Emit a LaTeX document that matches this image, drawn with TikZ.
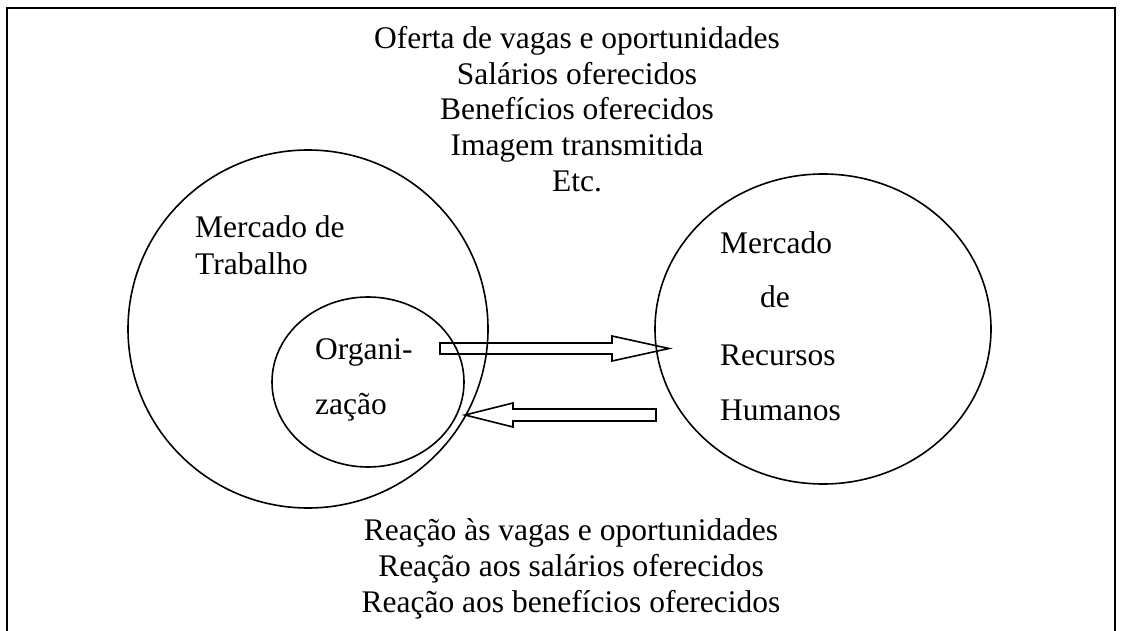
\documentclass[tikz,border=0pt]{standalone}
\usepackage{fontspec}
\setmainfont{Liberation Serif}
\begin{document}
\begin{tikzpicture}[x=1bp,y=-1bp,
  txt/.style={inner sep=0pt,anchor=base,font=\fontsize{31.6}{36}\selectfont},
  ltxt/.style={txt,anchor=base west},
  ring/.style={line width=1.6bp},
  blockarrow/.style={line width=1.6bp,fill=white,line join=miter},
  frame/.style={line width=1.8bp}]
\useasboundingbox (0,0) rectangle (1131,631);
% frame (bottom open)
\draw[frame] (7,640) -- (7,8) -- (1115,8) -- (1115,640);
% block arrows
\draw[blockarrow] (440,343) -- (612,343) -- (612,336) -- (669,348.5) -- (612,361) -- (612,354) -- (440,354) -- cycle;
\draw[blockarrow] (656,409) -- (513,409) -- (513,403) -- (465,415) -- (513,427) -- (513,421) -- (656,421) -- cycle;
% circles
\draw[ring] (308,329) ellipse [x radius=180, y radius=179];
\draw[ring] (368,382) ellipse [x radius=96, y radius=85];
\draw[ring] (823,329) ellipse [x radius=168, y radius=155];
% top text
\node[txt] (t1) at (577,49) {Oferta de vagas e oportunidades};
\node[txt] (t2) at (577,84.5) {Salários oferecidos};
\node[txt] (t3) at (577,120) {Benefícios oferecidos};
\node[txt] (t4) at (577,156) {Imagem transmitida};
\node[txt] (t5) at (577,192) {Etc.};
% bottom text
\node[txt] (b1) at (571,540) {Reação às vagas e oportunidades};
\node[txt] (b2) at (571,576) {Reação aos salários oferecidos};
\node[txt] (b3) at (571,612) {Reação aos benefícios oferecidos};
% circle labels
\node[ltxt] (mt1) at (195,238) {Mercado de};
\node[ltxt] (mt2) at (195,275) {Trabalho};
\node[ltxt] (org1) at (315,359) {Organi-};
\node[ltxt] (org2) at (315,414) {zação};
\node[ltxt] (rh1) at (720,254) {Mercado};
\node[ltxt] (rh2) at (760,308) {de};
\node[ltxt] (rh3) at (720,365) {Recursos};
\node[ltxt] (rh4) at (720,420) {Humanos};
\end{tikzpicture}
\end{document}
